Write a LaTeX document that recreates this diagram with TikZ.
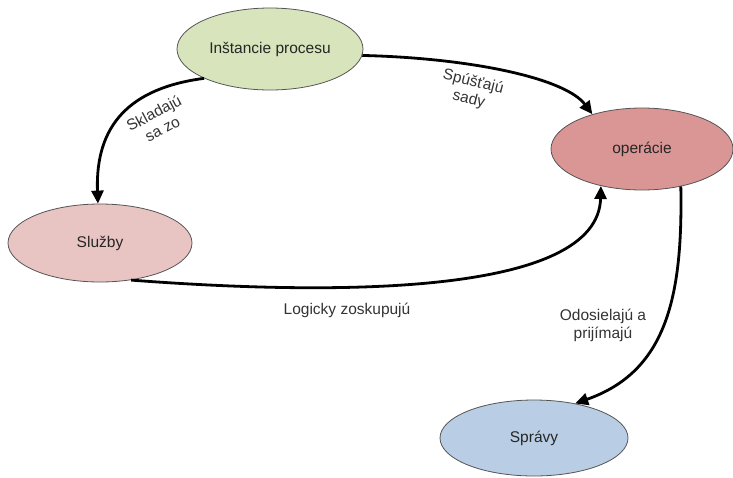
\documentclass[tikz,border=0pt]{standalone}
\usepackage{fontspec}
\setmainfont{Liberation Sans}
\usetikzlibrary{shapes.geometric,arrows.meta}

\definecolor{instfill}{HTML}{D7E4BC}
\definecolor{opfill}{HTML}{D99694}
\definecolor{sluzfill}{HTML}{E8C4C3}
\definecolor{sprfill}{HTML}{B9CDE5}
\definecolor{edgegray}{HTML}{555555}
\definecolor{labelgray}{HTML}{333333}

\tikzset{
  entity/.style={ellipse, draw=edgegray, line width=0.8pt, inner sep=0pt,
    minimum width=#1, minimum height=80pt, font=\fontsize{15.5}{18}\selectfont,
    text=black!85},
  entity/.default=186pt,
  relation/.style={line width=2.8pt, black,
    -{Triangle[length=13pt,width=12pt]}},
  rellabel/.style={font=\fontsize{15.5}{18}\selectfont, text=labelgray,
    align=center, inner sep=0pt}
}

\begin{document}
\begin{tikzpicture}[x=1pt,y=-1pt]
  \useasboundingbox (0,0) rectangle (733,477);

  % entities
  \node[entity, fill=instfill, minimum height=82pt] (inst) at (270,49) {Inštancie procesu};
  \node[entity=182pt, fill=opfill, minimum height=82pt] (op) at (642,149) {operácie};
  \node[entity=184pt, fill=sluzfill, minimum height=78pt] (sluz) at (100,243) {Služby};
  \node[entity=188pt, fill=sprfill, minimum height=76pt] (spr) at (534,438) {Správy};

  % relations
  \draw[relation] (inst.204) .. controls (130,88) and (95,125) .. (sluz.93);
  \draw[relation] (inst.-4) .. controls (470,58) and (565,78) .. (op.145);
  \draw[relation] (sluz.-50) .. controls (340,296) and (598,295) .. (op.222);
  \draw[relation] (op.-44) .. controls (683,300) and (665,372) .. (spr.40);

  % relation labels
  \node[rellabel, rotate=28] (lskl) at (158,121) {Skladajú\\sa zo};
  \node[rellabel, rotate=-14] (lspu) at (471,91) {Spúšťajú\\sady};
  \node[rellabel] (llog) at (347,310) {Logicky zoskupujú};
  \node[rellabel] (lodo) at (603,325) {Odosielajú a\\prijímajú};
\end{tikzpicture}
\end{document}
